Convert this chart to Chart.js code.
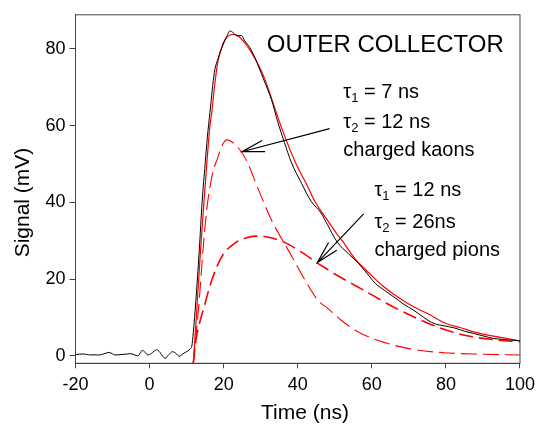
<!DOCTYPE html>
<html>
<head>
<meta charset="utf-8">
<script src="https://cdn.jsdelivr.net/npm/chart.js@4.4.1/dist/chart.umd.min.js"></script>
<style>
  html, body { margin: 0; padding: 0; background: #fff; }
  canvas { display: block; }
</style>
</head>
<body>
<canvas id="myChart" width="541" height="425"></canvas>
<script>
// measured signal (black)
var timeMeasured = [-20, -19, -18, -17, -16, -15, -14, -13, -12, -11, -10, -9.4, -8.5, -7.2, -6, -5.2, -4.2, -3.2, -2.5, -2,
  -1.2, -0.5, 0.5, 1.2, 1.9, 2.8, 3.6, 4.2, 5.2, 6.2, 7.1, 8, 9, 10.2, 11, 11.4, 11.8, 12.5, 13.4, 14.2,
  15, 15.6, 16.3, 17.5, 18.6, 19.9, 21.1, 21.7, 22.6, 23.5, 24.8, 25.7, 27.1, 28.8, 30.6, 32.9, 34.6, 36.4, 38.2, 41,
  43.6, 46.3, 48, 50.7, 53.8, 56.5, 59.5, 61, 63.5, 66, 68.5, 71.4, 74, 76.8, 79.5, 82.1, 85, 87.5, 90, 92.8,
  95, 97.5, 100];
var signalMeasured = [0.35, 0.4, 0.45, 0.35, 0.2, 0.25, 0.2, 0.3, 0.6, 0.85, 0.5, 0.2, 0.25, 0.35, 0.45, 0.55, 0.3, -0.05, 0.7, 1.4,
  0.9, 0.2, 0.6, 1.2, 1.55, 0.9, -0.2, -0.65, 0.3, 1.05, 0.6, -0.1, 0.5, 1.2, 1.8, 2.5, 6, 14.4, 27.3, 40.3,
  50, 57, 63.5, 73.9, 77.8, 81.2, 83.8, 84.7, 84.2, 83.4, 83.5, 82.1, 80.3, 76.9, 72.5, 66.8, 61, 55.6, 50.6, 45,
  40.3, 37.2, 34.2, 29.6, 26.5, 24, 20.5, 18.8, 17, 15.3, 13.5, 11.8, 10, 8.4, 7.8, 7.3, 6.4, 5.8, 5.2, 4.5,
  4.3, 4.1, 3.9];

// total fit (red solid)
var timeFit = [11.8, 12.9, 13.8, 14.7, 15.6, 16.3, 16.8, 17.5, 18.4, 19.9, 21.3, 22.6, 23.9, 25.7, 27.5, 29.3, 31.1, 33.3, 36, 39.1,
  42.9, 44.6, 48.2, 50.7, 52, 55.2, 57.5, 60.5, 63, 67.8, 71, 75, 80, 84, 88, 92.8, 96.5, 100];
var signalFit = [-2, 14.4, 28, 40.3, 52, 60, 63.5, 70, 76.5, 81.6, 83.4, 83.8, 83.4, 81.6, 79.1, 76, 72.2, 66, 58.5, 51,
  43.7, 40.3, 35.1, 31.6, 30, 25.6, 23.2, 20.4, 18.2, 14.8, 12.9, 11, 8.4, 7.3, 6.1, 5.1, 4.5, 3.9];

// charged kaons component (red dashed)
var timeKaon = [11.8, 12.5, 13.4, 14.3, 15.3, 16.3, 17.2, 18.25, 19.6, 20.9, 22.7, 24.9, 26.7, 28.5, 30.3, 33, 37.3, 39.2, 41.8, 45.5,
  48.2, 51.8, 57.1, 64.3, 71.4, 79.4, 89.3, 100];
var signalKaon = [-2, 5, 14.4, 26, 37, 44, 48.3, 51.2, 54.9, 56.3, 55.4, 53, 49.8, 45.5, 41.2, 35.2, 27.8, 24.5, 20, 14.4,
  12.3, 9.2, 5.8, 3.2, 1.6, 0.8, 0.4, 0.2];

// charged pions component (red dashed)
var timePion = [11.8, 12.5, 13.5, 14.7, 16.9, 19.6, 23.2, 26, 28.5, 32.1, 36.6, 41, 45.1, 48.2, 50, 53.5, 58.9, 64.3, 70.5, 77.7,
  85.7, 92.8, 100];
var signalPion = [-2, 4, 8.5, 12.7, 20, 26, 29.5, 30.7, 31.2, 30.9, 29.5, 27, 24.3, 22.4, 21.3, 19.4, 16.5, 13.5, 10.5, 7.5,
  5.2, 4.2, 3.6];

var xTicks = [-20, 0, 20, 40, 60, 80, 100];
var yTicks = [0, 20, 40, 60, 80];

var FONT = '"Liberation Sans", Arial, sans-serif';

function toPoints(xs, ys) {
  return xs.map(function (x, i) { return { x: x, y: ys[i] }; });
}

function drawArrow(ctx, xs, ys, x0, y0, x1, y1) {
  var px0 = xs.getPixelForValue(x0), py0 = ys.getPixelForValue(y0);
  var px1 = xs.getPixelForValue(x1), py1 = ys.getPixelForValue(y1);
  var ang = Math.atan2(py0 - py1, px0 - px1);
  var len = 23, spread = 0.25;
  ctx.beginPath();
  ctx.moveTo(px0, py0);
  ctx.lineTo(px1, py1);
  ctx.moveTo(px1 + len * Math.cos(ang - spread), py1 + len * Math.sin(ang - spread));
  ctx.lineTo(px1, py1);
  ctx.lineTo(px1 + len * Math.cos(ang + spread), py1 + len * Math.sin(ang + spread));
  ctx.stroke();
}

function drawTau(ctx, x, y, sub, rest) {
  ctx.font = '20px ' + FONT;
  ctx.fillText('\u03c4', x, y);
  var w = ctx.measureText('\u03c4').width;
  ctx.font = '13px ' + FONT;
  ctx.fillText(sub, x + w, y + 4);
  var w2 = ctx.measureText(sub).width;
  ctx.font = '20px ' + FONT;
  ctx.fillText(rest, x + w + w2, y);
}

var annotations = {
  id: 'annotations',
  afterDraw: function (chart) {
    var ctx = chart.ctx, xs = chart.scales.x, ys = chart.scales.y, a = chart.chartArea;
    ctx.save();

    // frame
    ctx.strokeStyle = '#444';
    ctx.lineWidth = 1;
    ctx.strokeRect(a.left, a.top, a.right - a.left, a.bottom - a.top);

    // arrows
    ctx.strokeStyle = '#000';
    ctx.lineWidth = 1.2;
    drawArrow(ctx, xs, ys, 48.6, 59.2, 24.95, 53.2);
    drawArrow(ctx, xs, ys, 57.8, 37.0, 45.3, 24.3);

    ctx.fillStyle = '#000';
    ctx.textAlign = 'left';
    ctx.textBaseline = 'alphabetic';

    ctx.font = '24px ' + FONT;
    ctx.fillText('OUTER COLLECTOR', xs.getPixelForValue(31.65), ys.getPixelForValue(79.2));

    var kx = xs.getPixelForValue(52.3);
    drawTau(ctx, kx, ys.getPixelForValue(67.2), '1', ' = 7 ns');
    drawTau(ctx, kx, ys.getPixelForValue(59.4), '2', ' = 12 ns');
    ctx.font = '20px ' + FONT;
    ctx.fillText('charged kaons', kx, ys.getPixelForValue(52.1));

    var px = xs.getPixelForValue(60.7);
    drawTau(ctx, px, ys.getPixelForValue(41.6), '1', ' = 12 ns');
    drawTau(ctx, px, ys.getPixelForValue(33.4), '2', ' = 26ns');
    ctx.font = '20px ' + FONT;
    ctx.fillText('charged pions', px, ys.getPixelForValue(26.0));

    // axis titles
    ctx.font = '21px ' + FONT;
    ctx.textAlign = 'center';
    ctx.fillText('Time (ns)', 305, 418.5);
    ctx.translate(29, 202.5);
    ctx.rotate(-Math.PI / 2);
    ctx.fillText('Signal (mV)', 0, 0);

    ctx.restore();
  }
};

var ctx = document.getElementById('myChart').getContext('2d');
var myChart = new Chart(ctx, {
  type: 'line',
  data: {
    datasets: [
      {
        label: 'Measured',
        data: toPoints(timeMeasured, signalMeasured),
        borderColor: '#000',
        borderWidth: 1,
        cubicInterpolationMode: 'monotone',
        order: 0
      },
      {
        label: 'Fit',
        data: toPoints(timeFit, signalFit),
        borderColor: '#ff0000',
        borderWidth: 1.2,
        cubicInterpolationMode: 'monotone',
        order: 1
      },
      {
        label: 'Charged kaons',
        data: toPoints(timeKaon, signalKaon),
        borderColor: '#ff0000',
        borderWidth: 1.1,
        borderDash: [16, 6],
        cubicInterpolationMode: 'monotone',
        order: 2
      },
      {
        label: 'Charged pions',
        data: toPoints(timePion, signalPion),
        borderColor: '#ff0000',
        borderWidth: 1.6,
        borderDash: [14, 6],
        cubicInterpolationMode: 'monotone',
        order: 3
      }
    ]
  },
  options: {
    responsive: false,
    animation: false,
    devicePixelRatio: 1,
    layout: { padding: { top: 12, right: 17.5, left: 0, bottom: 0 } },
    elements: { point: { radius: 0 } },
    plugins: {
      legend: { display: false },
      tooltip: { enabled: false }
    },
    scales: {
      x: {
        type: 'linear',
        min: -20,
        max: 100,
        afterBuildTicks: function (s) { s.ticks = xTicks.map(function (v) { return { value: v }; }); },
        afterFit: function (s) { s.height = 61.7; },
        grid: { drawOnChartArea: false, tickLength: 5, color: '#444' },
        border: { display: true, color: '#444' },
        ticks: { color: '#000', padding: 6, maxRotation: 0, font: { family: FONT, size: 18 } }
      },
      y: {
        min: -1.97,
        max: 88.9,
        afterBuildTicks: function (s) { s.ticks = yTicks.map(function (v) { return { value: v }; }); },
        afterFit: function (s) { s.width = 75.5; },
        grid: { drawOnChartArea: false, tickLength: 6, color: '#444' },
        border: { display: true, color: '#444' },
        ticks: { color: '#000', padding: 4, font: { family: FONT, size: 18 } }
      }
    }
  },
  plugins: [annotations]
});
</script>
</body>
</html>
